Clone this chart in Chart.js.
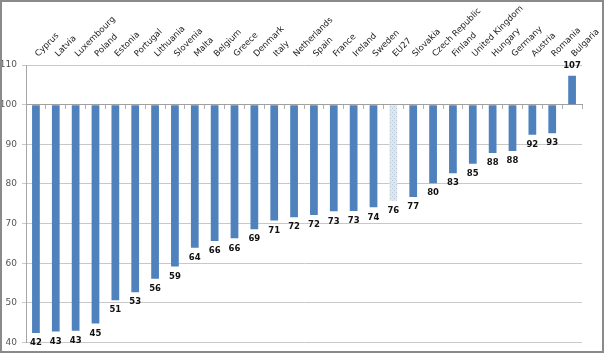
<!DOCTYPE html>
<html><head><meta charset="utf-8">
<script src="https://cdn.jsdelivr.net/npm/chart.js@4/dist/chart.umd.min.js"></script>
<style>html,body{margin:0;padding:0;background:#fff}#wrap{width:604px;height:353px;position:relative}</style>
</head><body><div id="wrap"><canvas id="c" width="604" height="353"></canvas></div>
<script>
const categories = ['Cyprus','Latvia','Luxembourg','Poland','Estonia','Portugal','Lithuania','Slovenia','Malta','Belgium','Greece','Denmark','Italy','Netherlands','Spain','France','Ireland','Sweden','EU27','Slovakia','Czech Republic','Finland','United Kingdom','Hungary','Germany','Austria','Romania','Bulgaria'];
const values = [42.4,42.8,43.0,44.8,50.7,52.7,56.1,59.2,63.9,65.6,66.3,68.6,70.8,71.6,72.2,73.1,73.2,74.1,75.8,76.7,80.2,82.7,85.1,87.8,88.3,92.4,92.8,107.3];
const baseline = 100;
const highlightCategory = 'EU27';
const yMin = 40, yMax = 110, yStep = 10;

function hatch(){
  const p = document.createElement('canvas'); p.width = 4; p.height = 4;
  const g = p.getContext('2d');
  g.fillStyle = '#dde5ee'; g.fillRect(0,0,4,4);
  g.fillStyle = '#b8c7d8'; g.fillRect(0,0,1,1); g.fillRect(2,2,1,1);
  return g.createPattern(p,'repeat');
}
const ctx = document.getElementById('c').getContext('2d');
const hatchPattern = hatch();
const colors = categories.map(c => c === highlightCategory ? hatchPattern : '#4f81bd');

const labelPlugin = {
  id: 'valueLabels',
  afterDatasetsDraw(chart){
    const c = chart.ctx;
    const meta = chart.getDatasetMeta(0);
    c.save();
    c.font = 'bold 8.5px "DejaVu Sans"';
    c.fillStyle = '#111';
    c.textAlign = 'center';
    c.textBaseline = 'middle';
    meta.data.forEach((el, i) => {
      const v = values[i];
      const t = String(Math.round(v));
      const y = v < baseline ? el.y + 10 : el.y - 10;
      c.fillText(t, el.x, y);
    });
    c.restore();
  },
  afterDraw(chart){
    const c = chart.ctx;
    c.save();
    c.strokeStyle = '#8a8a8a';
    c.lineWidth = 2;
    c.strokeRect(1, 1, chart.width - 2, chart.height - 2);
    c.restore();
  }
};

new Chart(ctx, {
  type: 'bar',
  data: {
    labels: categories,
    datasets: [{
      data: values,
      base: baseline,
      backgroundColor: colors,
      borderWidth: 0,
      barPercentage: 0.39,
      categoryPercentage: 1.0
    }]
  },
  options: {
    responsive: false,
    animation: false,
    devicePixelRatio: 1,
    layout: { padding: { left: 0, right: 22, top: 0, bottom: 8 } },
    plugins: { legend: { display: false }, tooltip: { enabled: false } },
    scales: {
      x: {
        type: 'category', position: 'top', offset: true,
        grid: { display: false, drawTicks: false },
        border: { display: false },
        ticks: { minRotation: 45, maxRotation: 45, autoSkip: false, padding: 6, labelOffset: 8,
                 font: { family: 'DejaVu Sans', size: 8.5 }, color: '#222' },
        afterFit(s){ s.height = 65; }
      },
      x2: {
        type: 'category', axis: 'x', position: { y: 100 }, offset: true,
        ticks: { display: false },
        grid: { drawOnChartArea: false, offset: true, tickLength: 4, color: '#b0b0b0' },
        border: { color: '#a0a0a0' }
      },
      y: {
        min: yMin, max: yMax,
        ticks: { stepSize: yStep, padding: 5, font: { family: 'DejaVu Sans', size: 9 }, color: '#555' },
        grid: { color: '#c8c8c8', tickLength: 4 },
        border: { color: '#a6a6a6' },
        afterFit(s){ s.width = 26; }
      }
    }
  },
  plugins: [labelPlugin]
});
</script></body></html>
